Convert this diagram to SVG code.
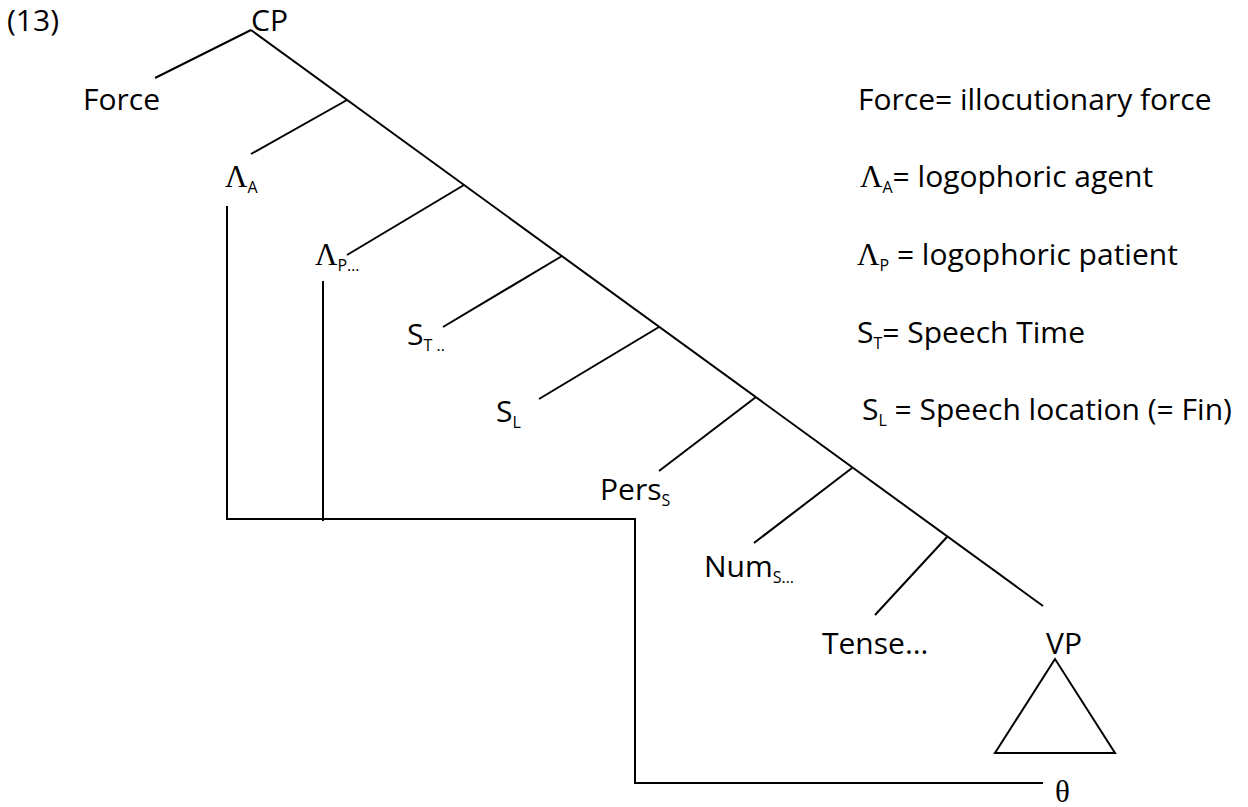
<svg xmlns="http://www.w3.org/2000/svg" width="1248" height="807" viewBox="0 0 1248 807">
<style>
text{font-family:"Open Sans","Liberation Sans",sans-serif;font-size:30px;fill:#000}
.sub{font-size:16px}
.gr{font-family:"Liberation Serif","DejaVu Serif",serif;font-size:31px}
.ln{stroke:#000;stroke-width:2;fill:none;stroke-linecap:butt}
</style>
<rect width="1248" height="807" fill="#fff"/>
<text id="num" x="7" y="31">(13)</text>
<g id="connectors" class="ln">
<line x1="251" y1="30" x2="1043" y2="606"/>
<line x1="251" y1="30" x2="155" y2="78"/>
<line x1="347" y1="100" x2="251" y2="154"/>
<line x1="464" y1="185" x2="347" y2="255"/>
<line x1="562" y1="256" x2="443" y2="327"/>
<line x1="659" y1="327" x2="539" y2="399"/>
<line x1="756" y1="397" x2="659" y2="471"/>
<line x1="852" y1="468" x2="754" y2="543"/>
<line x1="947" y1="537" x2="875" y2="615"/>
<polyline points="227,206 227,519 635,519 635,783 1043,783"/>
<line x1="323" y1="281" x2="323" y2="521"/>
<polygon points="1055,659 995,753 1115,753"/>
</g>
<g id="n-cp"><text x="251" y="31">CP</text></g>
<g id="n-force"><text x="83" y="110">Force</text></g>
<g id="n-lambdaA"><text x="225" y="187"><tspan class="gr">Λ</tspan><tspan class="sub" dy="6">A</tspan></text></g>
<g id="n-lambdaP"><text x="315" y="265"><tspan class="gr">Λ</tspan><tspan class="sub" dy="6">P…</tspan></text></g>
<g id="n-ST"><text x="407" y="345">S<tspan class="sub" dy="6">T ..</tspan></text></g>
<g id="n-SL"><text x="496" y="422">S<tspan class="sub" dy="6">L</tspan></text></g>
<g id="n-pers"><text x="600" y="500">Pers<tspan class="sub" dy="6">S</tspan></text></g>
<g id="n-num"><text x="704" y="577">Num<tspan class="sub" dy="6">S…</tspan></text></g>
<g id="n-tense"><text x="822" y="654">Tense…</text></g>
<g id="n-vp"><text x="1046" y="654">VP</text></g>
<g id="n-theta"><text class="gr" x="1055" y="802">θ</text></g>
<g id="legend">
<text x="858" y="110">Force= illocutionary force</text>
<text x="860" y="187"><tspan class="gr">Λ</tspan><tspan class="sub" dy="6">A</tspan><tspan dy="-6">= logophoric agent</tspan></text>
<text x="857" y="265"><tspan class="gr">Λ</tspan><tspan class="sub" dy="6">P</tspan><tspan dy="-6"> = logophoric patient</tspan></text>
<text x="857" y="343">S<tspan class="sub" dy="6">T</tspan><tspan dy="-6">= Speech Time</tspan></text>
<text x="862" y="420">S<tspan class="sub" dy="6">L</tspan><tspan dy="-6"> = Speech location (= Fin)</tspan></text>
</g>
</svg>
